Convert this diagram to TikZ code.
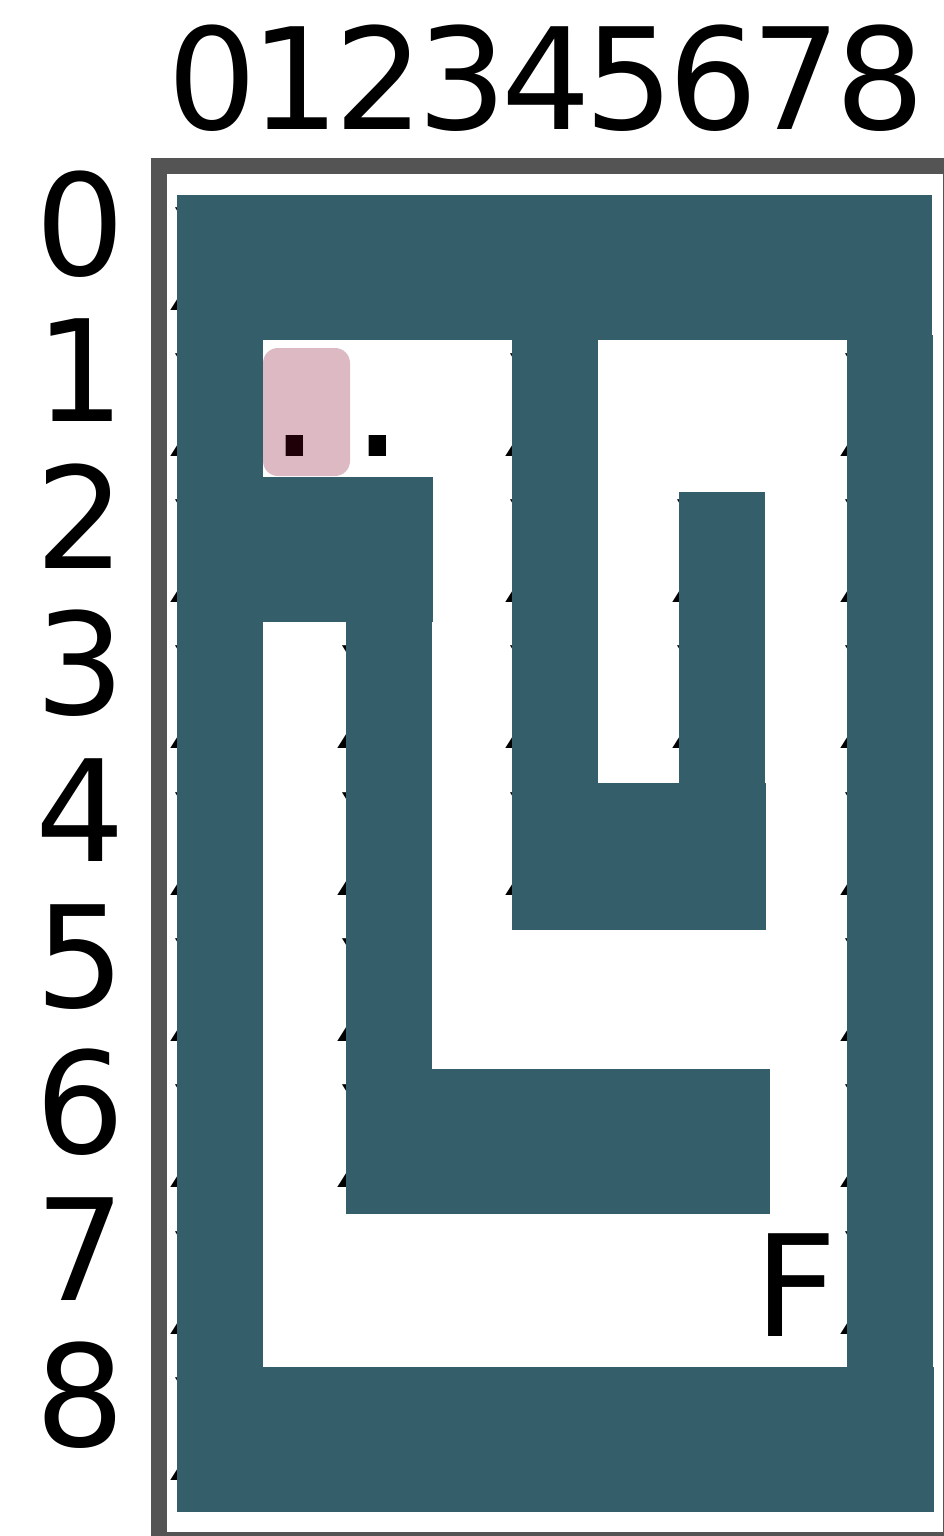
\documentclass[tikz,border=0pt]{standalone}
\usepackage{fontspec}
\newfontfamily\dv{DejaVu Sans}
\newfontfamily\dvm{DejaVu Sans Mono}
\definecolor{wallc}{RGB}{52,94,106}
\definecolor{hlc}{RGB}{220,185,195}
\definecolor{framec}{RGB}{84,84,84}
\definecolor{dotc}{RGB}{32,0,8}
\begin{document}
\begin{tikzpicture}[x=1pt,y=-1pt,
  big/.style={inner sep=0pt,outer sep=0pt,font=\dv\fontsize{141}{141}\selectfont},
  lbl/.style={big,anchor=base},
  mono/.style={inner sep=0pt,outer sep=0pt,font=\dvm\fontsize{141}{141}\selectfont},
  cellx/.style={mono,anchor=base west},
  celltxt/.style={mono,anchor=base},
  wallbox/.style={fill=wallc,draw=none},
  hlbox/.style={fill=hlc,draw=none,rounded corners=15pt},
  framebox/.style={draw=framec,line width=16pt}]
\useasboundingbox (0,0) rectangle (943,1536);
% frame
\draw[framebox] (159,166) rectangle (951,1540);
% column labels
\foreach \k in {0,...,8} {
  \node[lbl] (col\k) at ({212+83.5*\k},130) {\k};
}
% row labels
\foreach \k in {0,...,8} {
  \node[lbl] (row\k) at (80.5,{275.5+146.4*\k}) {\k};
}
% highlight
\path[hlbox] (263,348) rectangle (350,476);
% cell texts
\foreach \r/\c in {0/0,0/1,0/2,0/3,0/4,0/5,0/6,0/7,0/8,
  1/0,1/4,1/8,
  2/0,2/1,2/2,2/4,2/6,2/8,
  3/0,3/2,3/4,3/6,3/8,
  4/0,4/2,4/4,4/5,4/6,4/8,
  5/0,5/2,5/8,
  6/0,6/2,6/3,6/4,6/5,6/6,6/8,
  7/0,7/8,
  8/0,8/1,8/2,8/3,8/4,8/5,8/6,8/7,8/8} {
  \node[cellx] (x\r-\c) at ({169+83.8*\c},{310+146.3*\r}) {X};
}
\node[celltxt,text=dotc] (dotA) at (294.5,456.7) {.};
\node[celltxt] (dotB) at (377.5,456.7) {.};
\node[celltxt] (fin) at (794.5,1336) {F};
% walls
\path[wallbox] (177,195) rectangle (932,340);
\path[wallbox] (177,195) rectangle (263,1511.7);
\path[wallbox] (847,335) rectangle (933,1370);
\path[wallbox] (177,1367) rectangle (934,1511.7);
\path[wallbox] (512,335) rectangle (598,930);
\path[wallbox] (263,477) rectangle (432.7,622);
\path[wallbox] (346,477) rectangle (432,1213.7);
\path[wallbox] (346,1068.5) rectangle (770,1213.7);
\path[wallbox] (679,492) rectangle (765,930);
\path[wallbox] (512,783.3) rectangle (766,929.5);
\end{tikzpicture}
\end{document}
